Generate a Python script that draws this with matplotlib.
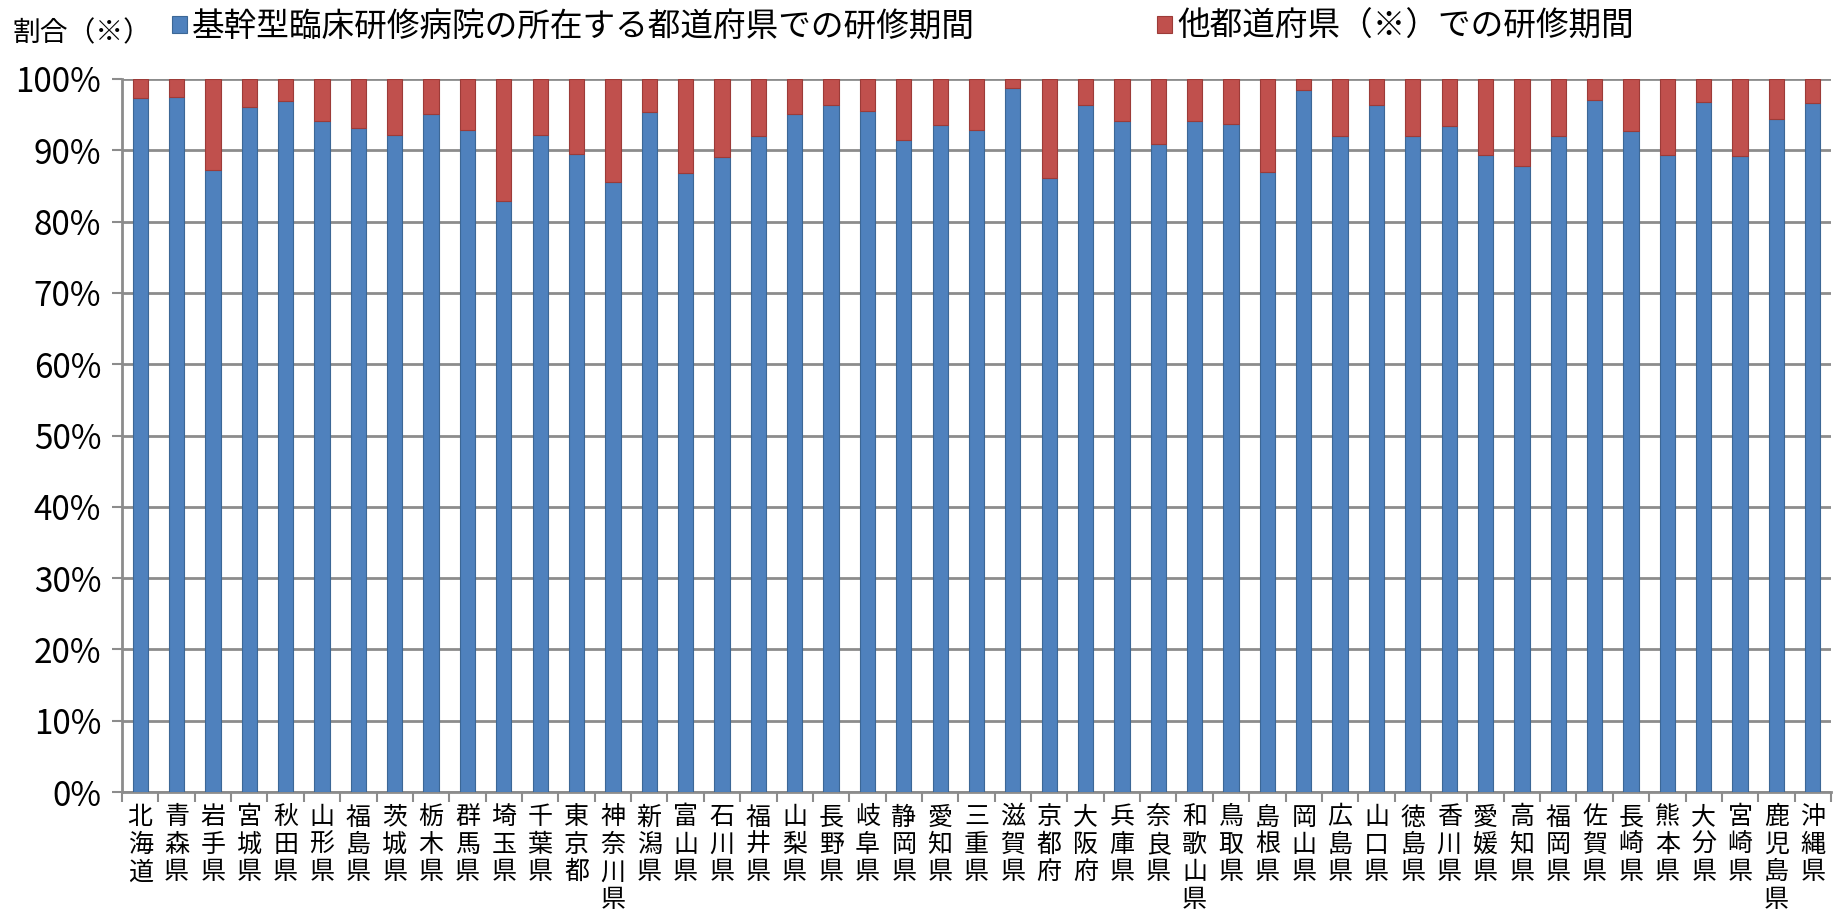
import matplotlib.pyplot as plt
from matplotlib.ticker import PercentFormatter

plt.rcParams['font.family'] = ['Noto Sans CJK JP', 'DejaVu Sans']

prefectures = ['北海道', '青森県', '岩手県', '宮城県', '秋田県', '山形県', '福島県',
               '茨城県', '栃木県', '群馬県', '埼玉県', '千葉県', '東京都', '神奈川県',
               '新潟県', '富山県', '石川県', '福井県', '山梨県', '長野県', '岐阜県',
               '静岡県', '愛知県', '三重県', '滋賀県', '京都府', '大阪府', '兵庫県',
               '奈良県', '和歌山県', '鳥取県', '島根県', '岡山県', '広島県', '山口県',
               '徳島県', '香川県', '愛媛県', '高知県', '福岡県', '佐賀県', '長崎県',
               '熊本県', '大分県', '宮崎県', '鹿児島県', '沖縄県']

# 基幹型臨床研修病院の所在する都道府県での研修期間 (%)
home_share = [97.3, 97.5, 87.2, 96.1, 96.9, 94.1, 93.1, 92.2, 95.1, 92.9,
              82.9, 92.2, 89.5, 85.5, 95.4, 86.8, 89.0, 92.0, 95.1, 96.3,
              95.5, 91.5, 93.5, 92.9, 98.8, 86.1, 96.3, 94.1, 90.9, 94.1,
              93.7, 87.0, 98.5, 92.0, 96.3, 92.0, 93.4, 89.3, 87.8, 92.0,
              97.0, 92.7, 89.4, 96.8, 89.2, 94.4, 96.7]

# 他都道府県での研修期間 (%)
other_share = [2.7, 2.5, 12.8, 3.9, 3.1, 5.9, 6.9, 7.8, 4.9, 7.1,
               17.1, 7.8, 10.5, 14.5, 4.6, 13.2, 11.0, 8.0, 4.9, 3.7,
               4.5, 8.5, 6.5, 7.1, 1.2, 13.9, 3.7, 5.9, 9.1, 5.9,
               6.3, 13.0, 1.5, 8.0, 3.7, 8.0, 6.6, 10.7, 12.2, 8.0,
               3.0, 7.3, 10.6, 3.2, 10.8, 5.6, 3.3]

series_names = ['基幹型臨床研修病院の所在する都道府県での研修期間',
                '他都道府県（※）での研修期間']

blue = '#4F81BD'
red = '#C0504D'
grid_color = '#8C8C8C'

fig = plt.figure(figsize=(18.37, 9.15), dpi=100)
ax = fig.add_axes([122 / 1837, 1 - 792 / 915, (1831 - 122) / 1837, (792 - 79) / 915])

x = range(len(prefectures))
b1 = ax.bar(x, home_share, width=0.42, color=blue, edgecolor='#3C6796',
            linewidth=0.8, zorder=3, label=series_names[0])
b2 = ax.bar(x, other_share, width=0.42, bottom=home_share, color=red,
            edgecolor='#9C3B38', linewidth=0.8, zorder=3, label=series_names[1])

ax.set_xlim(-0.5, len(prefectures) - 0.5)
ax.set_ylim(0, 100)
ax.set_yticks(range(0, 101, 10))
ax.yaxis.set_major_formatter(PercentFormatter(decimals=0))
ax.grid(axis='y', color=grid_color, linewidth=2, zorder=0)

ax.set_xticks([i - 0.5 for i in range(len(prefectures) + 1)], minor=False)
ax.set_xticklabels([])
ax.set_xticks(list(x), minor=True)
ax.set_xticklabels(['\n'.join(p) for p in prefectures], minor=True,
                   fontsize=18, linespacing=1.07, va='top')
ax.tick_params(axis='x', which='major', length=7, width=1.5, color=grid_color)
ax.tick_params(axis='x', which='minor', length=0, pad=9)
ax.tick_params(axis='y', length=7, width=1.5, color=grid_color, labelsize=24, pad=8)

for side in ['top', 'right']:
    ax.spines[side].set_visible(False)
for side in ['left', 'bottom']:
    ax.spines[side].set_color(grid_color)
    ax.spines[side].set_linewidth(2)

fig.text(12 / 1837, 1 - 33 / 915, '割合（※）', fontsize=20, va='center', ha='left')

fig.legend(handles=[b1, b2], loc='center left', bbox_to_anchor=(172 / 1837, 1 - 27 / 915),
           ncol=2, frameon=False, fontsize=23.5, handlelength=0.45, handleheight=0.45,
           handletextpad=0.15, columnspacing=5.6, borderpad=0, borderaxespad=0)

fig.savefig('out.png', dpi=100)
